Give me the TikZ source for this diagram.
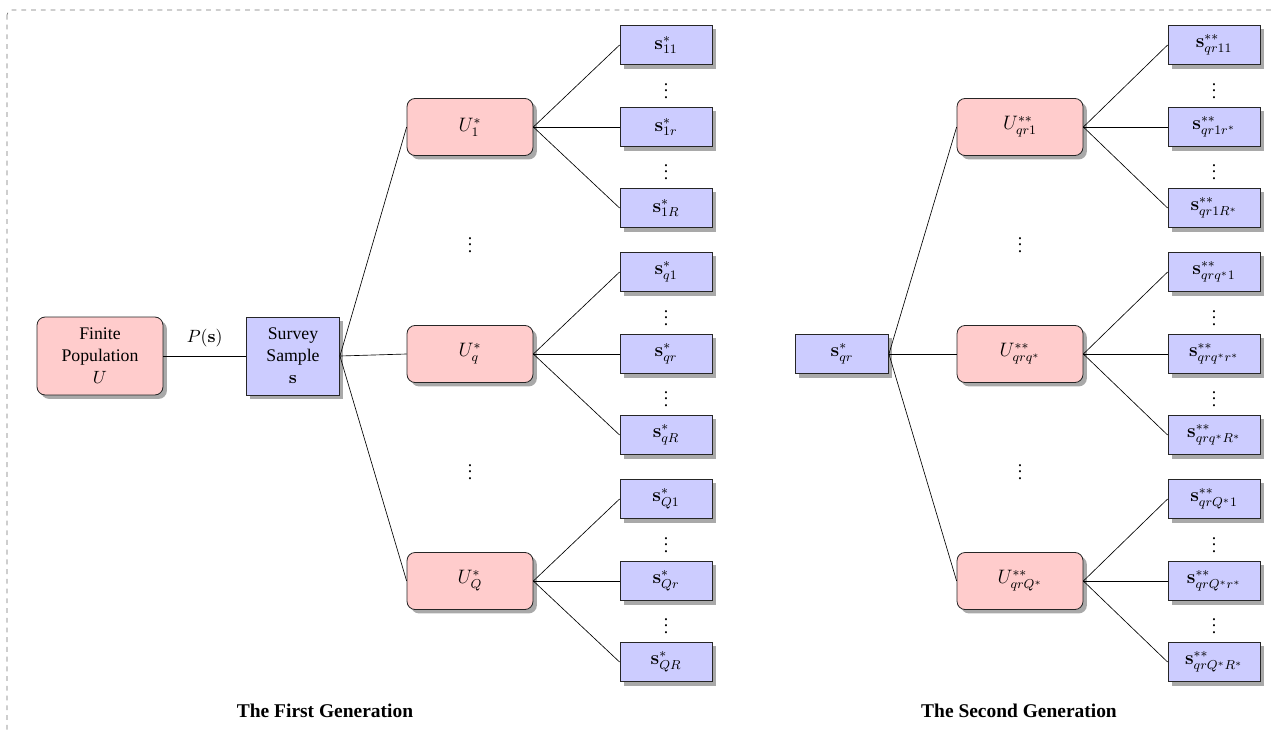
\documentclass[tikz,border=0pt,11pt]{standalone}
\usepackage[no-math]{fontspec}
\setmainfont{Liberation Serif}
\usetikzlibrary{shadows}
\tikzset{
  shad/.style={drop shadow={shadow xshift=2.4pt,shadow yshift=-2.4pt,fill=black!45,opacity=0.75}},
  pbox/.style={draw=black!85,line width=0.5pt,fill=red!20,rounded corners=5pt,align=center,shad,inner sep=2pt},
  bbox/.style={draw=black!85,line width=0.5pt,fill=blue!20,align=center,shad,inner sep=2pt},
  ubox/.style={pbox,minimum width=77.7pt,minimum height=35.2pt,font=\large},
  sbox/.style={bbox,minimum width=56.8pt,minimum height=24.5pt,font=\large},
  conn/.style={draw=black,line width=0.4pt},
  vd/.style={inner sep=0pt},
  gen/.style={font=\large\bfseries}
}
\begin{document}
\begin{tikzpicture}[x=0.617pt,y=-0.617pt]
\useasboundingbox (0,0) rectangle (1275,732);
\draw[black!55,dashed,rounded corners=3pt] (7,10) rectangle (1300,760);

% first generation
\node[pbox,minimum width=77.7pt,minimum height=48.1pt] (FP) at (100,356) {Finite\\Population\\$U$};
\node[bbox,minimum width=57.4pt,minimum height=48.1pt] (SS) at (293,356) {Survey\\Sample\\$\mathbf{s}$};
\draw[conn] (FP) -- node[above=2pt] {$P(\mathbf{s})$} (SS);

\node[ubox] (U1) at (470,127) {$U^*_1$};
\node[ubox] (Uq) at (470,354) {$U^*_q$};
\node[ubox] (UQ) at (470,581) {$U^*_Q$};
\node[vd] (d1) at (470,240) {$\vdots$};
\node[vd] (d2) at (470,467) {$\vdots$};
\draw[conn] (SS.east) -- (U1.west);
\draw[conn] (SS.east) -- (Uq.west);
\draw[conn] (SS.east) -- (UQ.west);

\node[sbox] (s11) at (666,45) {$\mathbf{s}^*_{11}$};
\node[sbox] (s1r) at (666,127) {$\mathbf{s}^*_{1r}$};
\node[sbox] (s1R) at (666,208) {$\mathbf{s}^*_{1R}$};
\node[vd] (e1) at (666,86) {$\vdots$};
\node[vd] (e2) at (666,167) {$\vdots$};
\draw[conn] (U1.east) -- (s11.west);
\draw[conn] (U1.east) -- (s1r.west);
\draw[conn] (U1.east) -- (s1R.west);

\node[sbox] (sq1) at (666,272) {$\mathbf{s}^*_{q1}$};
\node[sbox] (sqr) at (666,354) {$\mathbf{s}^*_{qr}$};
\node[sbox] (sqR) at (666,435) {$\mathbf{s}^*_{qR}$};
\node[vd] (e3) at (666,313) {$\vdots$};
\node[vd] (e4) at (666,394) {$\vdots$};
\draw[conn] (Uq.east) -- (sq1.west);
\draw[conn] (Uq.east) -- (sqr.west);
\draw[conn] (Uq.east) -- (sqR.west);

\node[sbox] (sQ1) at (666,499) {$\mathbf{s}^*_{Q1}$};
\node[sbox] (sQr) at (666,581) {$\mathbf{s}^*_{Qr}$};
\node[sbox] (sQR) at (666,662) {$\mathbf{s}^*_{QR}$};
\node[vd] (e5) at (666,540) {$\vdots$};
\node[vd] (e6) at (666,621) {$\vdots$};
\draw[conn] (UQ.east) -- (sQ1.west);
\draw[conn] (UQ.east) -- (sQr.west);
\draw[conn] (UQ.east) -- (sQR.west);

\node[gen] (g1) at (325,711) {The First Generation};

% second generation
\node[sbox,minimum width=57.4pt] (R) at (842,354) {$\mathbf{s}^*_{qr}$};
\node[ubox] (V1) at (1020,127) {$U^{**}_{qr1}$};
\node[ubox] (Vq) at (1020,354) {$U^{**}_{qrq^*}$};
\node[ubox] (VQ) at (1020,581) {$U^{**}_{qrQ^*}$};
\node[vd] (f1) at (1020,240) {$\vdots$};
\node[vd] (f2) at (1020,467) {$\vdots$};
\draw[conn] (R.east) -- (V1.west);
\draw[conn] (R.east) -- (Vq.west);
\draw[conn] (R.east) -- (VQ.west);

\node[sbox] (t11) at (1214,45) {$\mathbf{s}^{**}_{qr11}$};
\node[sbox] (t1r) at (1214,127) {$\mathbf{s}^{**}_{qr1r^*}$};
\node[sbox] (t1R) at (1214,208) {$\mathbf{s}^{**}_{qr1R^*}$};
\node[vd] (h1) at (1214,86) {$\vdots$};
\node[vd] (h2) at (1214,167) {$\vdots$};
\draw[conn] (V1.east) -- (t11.west);
\draw[conn] (V1.east) -- (t1r.west);
\draw[conn] (V1.east) -- (t1R.west);

\node[sbox] (tq1) at (1214,272) {$\mathbf{s}^{**}_{qrq^*1}$};
\node[sbox] (tqr) at (1214,354) {$\mathbf{s}^{**}_{qrq^*r^*}$};
\node[sbox] (tqR) at (1214,435) {$\mathbf{s}^{**}_{qrq^*R^*}$};
\node[vd] (h3) at (1214,313) {$\vdots$};
\node[vd] (h4) at (1214,394) {$\vdots$};
\draw[conn] (Vq.east) -- (tq1.west);
\draw[conn] (Vq.east) -- (tqr.west);
\draw[conn] (Vq.east) -- (tqR.west);

\node[sbox] (tQ1) at (1214,499) {$\mathbf{s}^{**}_{qrQ^*1}$};
\node[sbox] (tQr) at (1214,581) {$\mathbf{s}^{**}_{qrQ^*r^*}$};
\node[sbox] (tQR) at (1214,662) {$\mathbf{s}^{**}_{qrQ^*R^*}$};
\node[vd] (h5) at (1214,540) {$\vdots$};
\node[vd] (h6) at (1214,621) {$\vdots$};
\draw[conn] (VQ.east) -- (tQ1.west);
\draw[conn] (VQ.east) -- (tQr.west);
\draw[conn] (VQ.east) -- (tQR.west);

\node[gen] (g2) at (1019,711) {The Second Generation};
\end{tikzpicture}
\end{document}
